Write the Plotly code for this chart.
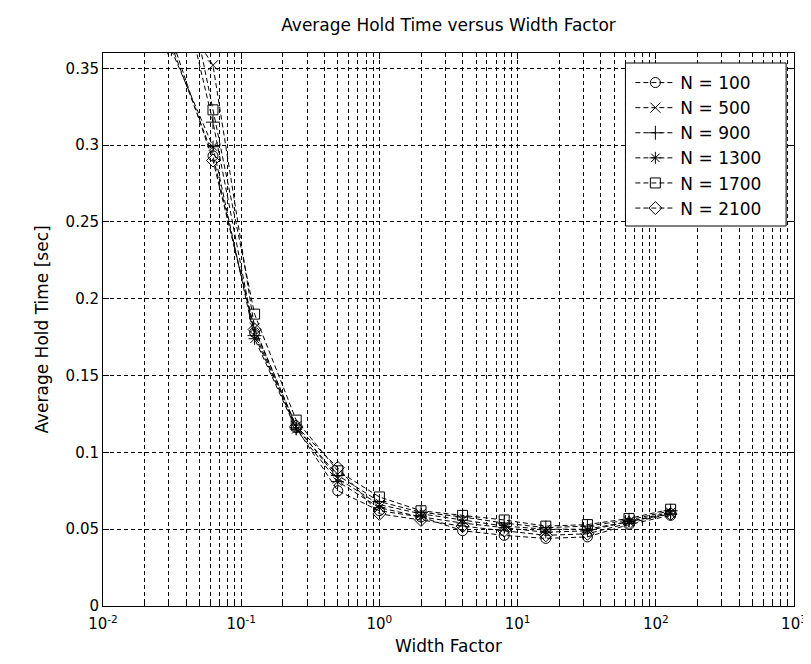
import plotly.graph_objects as go

width_factor = [0.03125, 0.0625, 0.125, 0.25, 0.5, 1, 2, 4, 8, 16, 32, 64, 128]

n_labels = ["N = 100", "N = 500", "N = 900", "N = 1300", "N = 1700", "N = 2100"]

hold_n100  = [0.365, 0.293, 0.178, 0.116, 0.075, 0.062, 0.058, 0.049, 0.046, 0.044, 0.045, 0.053, 0.059]
hold_n500  = [0.395, 0.352, 0.181, 0.117, 0.083, 0.066, 0.060, 0.056, 0.052, 0.050, 0.050, 0.055, 0.061]
hold_n900  = [0.430, 0.315, 0.176, 0.116, 0.085, 0.068, 0.061, 0.058, 0.054, 0.051, 0.052, 0.056, 0.062]
hold_n1300 = [0.362, 0.299, 0.174, 0.115, 0.081, 0.064, 0.058, 0.054, 0.051, 0.048, 0.049, 0.055, 0.060]
hold_n1700 = [0.456, 0.323, 0.190, 0.121, 0.088, 0.071, 0.062, 0.059, 0.056, 0.052, 0.053, 0.057, 0.063]
hold_n2100 = [0.370, 0.290, 0.180, 0.117, 0.090, 0.060, 0.056, 0.052, 0.049, 0.046, 0.047, 0.054, 0.060]

series = [hold_n100, hold_n500, hold_n900, hold_n1300, hold_n1700, hold_n2100]
symbols = ["circle-open", "x-thin-open", "cross-thin-open", "asterisk-open", "square-open", "diamond-open"]

x_tickvals = [0.01, 0.1, 1, 10, 100, 1000]
x_ticktext = ["10<sup>-2</sup>", "10<sup>-1</sup>", "10<sup>0</sup>", "10<sup>1</sup>", "10<sup>2</sup>", "10<sup>3</sup>"]

FONT = "DejaVu Sans"

# plot area in pixels
W, H = 811, 664
ML, MR, MT, MB = 95, 15, 45, 66
PW, PH = W - ML - MR, H - MT - MB


def px_x(p):
    return (p - ML) / PW


def px_y(p):
    return (H - MB - p) / PH


fig = go.Figure()
for i, (lab, ys, sym) in enumerate(zip(n_labels, series, symbols)):
    fig.add_trace(go.Scatter(
        x=width_factor, y=ys, name=lab, mode="lines+markers",
        legendgroup=f"g{i}",
        line=dict(color="black", width=1, dash="5px,3px"),
        marker=dict(symbol=sym, size=10, color="black", line=dict(color="black", width=1)),
    ))

# legend box (MATLAB style)
fig.add_shape(type="rect", xref="paper", yref="paper",
              x0=px_x(625), x1=px_x(788), y0=px_y(218), y1=px_y(55),
              line=dict(color="black", width=1), fillcolor="white", layer="above")

fig.update_layout(
    width=W, height=H,
    margin=dict(l=ML, r=MR, t=MT, b=MB),
    paper_bgcolor="white", plot_bgcolor="white",
    font=dict(family=FONT, size=15, color="black"),
    title=dict(text="Average Hold Time versus Width Factor", xref="paper", x=0.5, xanchor="center",
               y=1 - 17 / H, yanchor="middle", font=dict(size=17)),
    legend=dict(x=px_x(630), xanchor="left", y=px_y(57), yanchor="top",
                bgcolor="rgba(0,0,0,0)", borderwidth=0,
                font=dict(size=17), tracegroupgap=0, itemwidth=40),
    showlegend=True,
)

fig.update_xaxes(
    type="log", range=[-2, 3],
    tickvals=x_tickvals, ticktext=x_ticktext,
    ticks="inside", ticklen=6, tickcolor="black", ticklabelstandoff=4,
    showline=True, linecolor="black", linewidth=1, mirror="ticks",
    showgrid=True, gridcolor="black", gridwidth=1, griddash="4px,3px",
    zeroline=False,
    minor=dict(dtick="D1", ticks="inside", ticklen=4, tickcolor="black",
               showgrid=True, gridcolor="black", gridwidth=1, griddash="4px,3px"),
    title=dict(text="Width Factor", standoff=8, font=dict(size=17)),
)
fig.update_yaxes(
    range=[0, 0.36], tick0=0, dtick=0.05,
    ticks="inside", ticklen=6, tickcolor="black",
    showline=True, linecolor="black", linewidth=1, mirror="ticks",
    showgrid=True, gridcolor="black", gridwidth=1, griddash="4px,3px",
    zeroline=False,
    title=dict(text="Average Hold Time [sec]", standoff=12, font=dict(size=17)),
)

fig.write_html("out.html")
